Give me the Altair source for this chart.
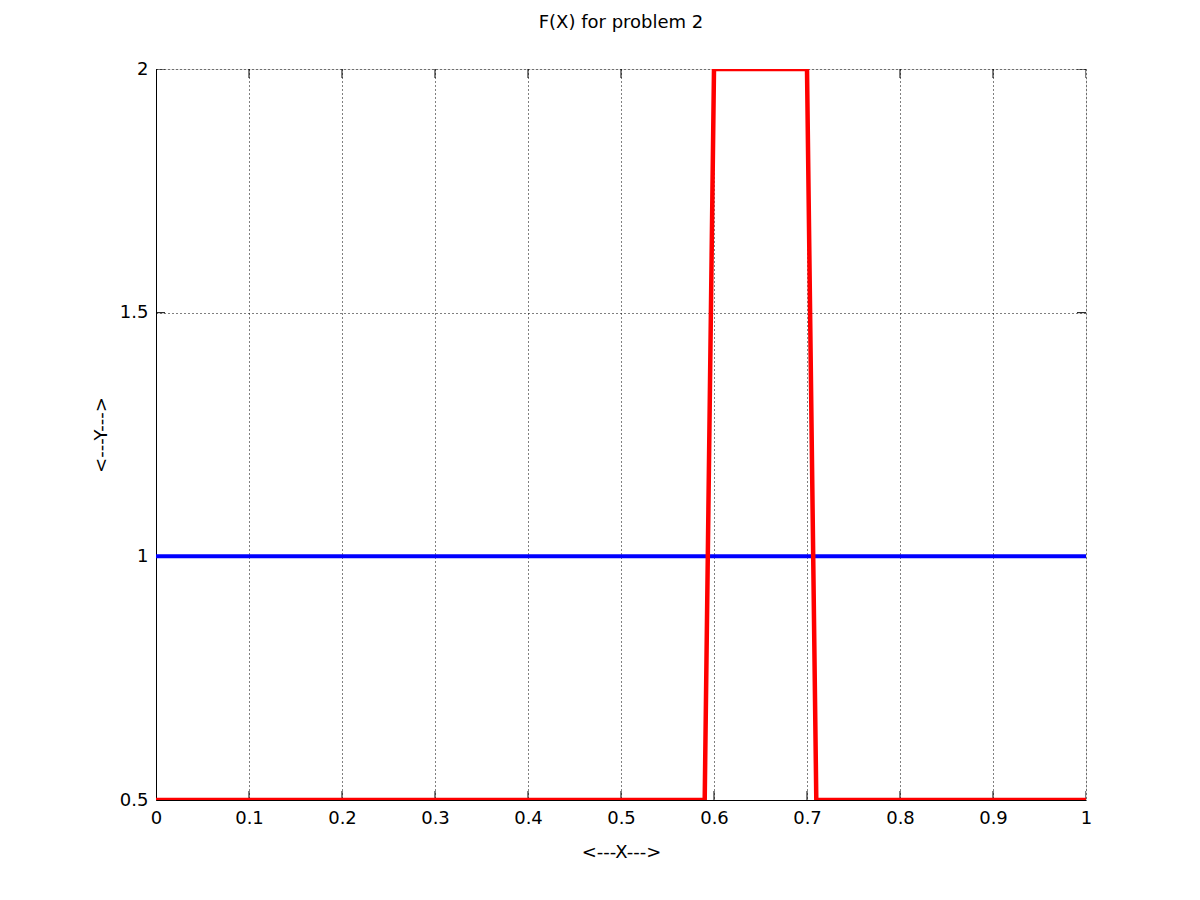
import altair as alt
import pandas as pd

# Data
red_x = [0.0, 0.59, 0.60, 0.70, 0.71, 1.0]
red_y = [0.5, 0.5, 2.0, 2.0, 0.5, 0.5]
blue_x = [0.0, 1.0]
blue_y = [1.0, 1.0]
x_ticks = [0.0, 0.1, 0.2, 0.3, 0.4, 0.5, 0.6, 0.7, 0.8, 0.9, 1.0]
y_ticks = [0.5, 1.0, 1.5, 2.0]

red_df = pd.DataFrame({"x": red_x, "y": red_y})
blue_df = pd.DataFrame({"x": blue_x, "y": blue_y})
xt_df = pd.DataFrame({"x": x_ticks})
yt_df = pd.DataFrame({"y": y_ticks})

FONT = "DejaVu Sans"

xs = alt.Scale(domain=[0, 1], nice=False, zero=False)
ys = alt.Scale(domain=[0.5, 2], nice=False, zero=False)

xax = alt.Axis(values=x_ticks, format="~g", title="<---X--->", grid=True,
               gridColor="black", gridDash=[1, 3], gridOpacity=1, gridWidth=1,
               ticks=False, labelPadding=9, titlePadding=16,
               domainColor="black", labelFontSize=18, titleFontSize=18,
               labelFont=FONT, titleFont=FONT, labelColor="black",
               titleColor="black", titleFontWeight="normal", labelFlush=False)
yax = alt.Axis(values=y_ticks, format="~g", title="<---Y--->", grid=True,
               gridColor="black", gridDash=[1, 3], gridOpacity=1, gridWidth=1,
               ticks=False, labelPadding=8, titlePadding=9,
               domainColor="black", labelFontSize=18, titleFontSize=18,
               labelFont=FONT, titleFont=FONT, labelColor="black",
               titleColor="black", titleFontWeight="normal", labelFlush=False)

blue = alt.Chart(blue_df).mark_line(color="#0000FF", strokeWidth=4, clip=True).encode(
    x=alt.X("x:Q", scale=xs, axis=xax),
    y=alt.Y("y:Q", scale=ys, axis=yax),
)
red = alt.Chart(red_df).mark_line(color="#FF0000", strokeWidth=4.5, clip=True).encode(
    x=alt.X("x:Q", scale=xs, axis=xax),
    y=alt.Y("y:Q", scale=ys, axis=yax),
)

tick_layers = []
for yv in [0.5, 2.0]:
    tick_layers.append(
        alt.Chart(xt_df).mark_tick(orient="vertical", size=18, thickness=1,
                                   color="black", clip=True, opacity=1).encode(
            x=alt.X("x:Q", scale=xs, axis=xax),
            y=alt.Y(datum=yv, scale=ys, axis=yax),
        )
    )
for xv in [0.0, 1.0]:
    tick_layers.append(
        alt.Chart(yt_df).mark_tick(orient="horizontal", size=18, thickness=1,
                                   color="black", clip=True, opacity=1).encode(
            x=alt.X(datum=xv, scale=xs, axis=xax),
            y=alt.Y("y:Q", scale=ys, axis=yax),
        )
    )

chart = alt.layer(*tick_layers, blue, red).properties(
    width=930,
    height=731,
    title=alt.TitleParams("F(X) for problem 2", fontSize=18, font=FONT,
                          fontWeight="normal", color="black", offset=28,
                          anchor="middle"),
    autosize=alt.AutoSizeParams(type="none"),
    padding={"left": 148, "top": 61, "right": 100, "bottom": 80},
).configure_view(stroke="black", strokeWidth=1).configure(background="white")

chart.save("out.html", embed_options={"renderer": "svg", "actions": False})
